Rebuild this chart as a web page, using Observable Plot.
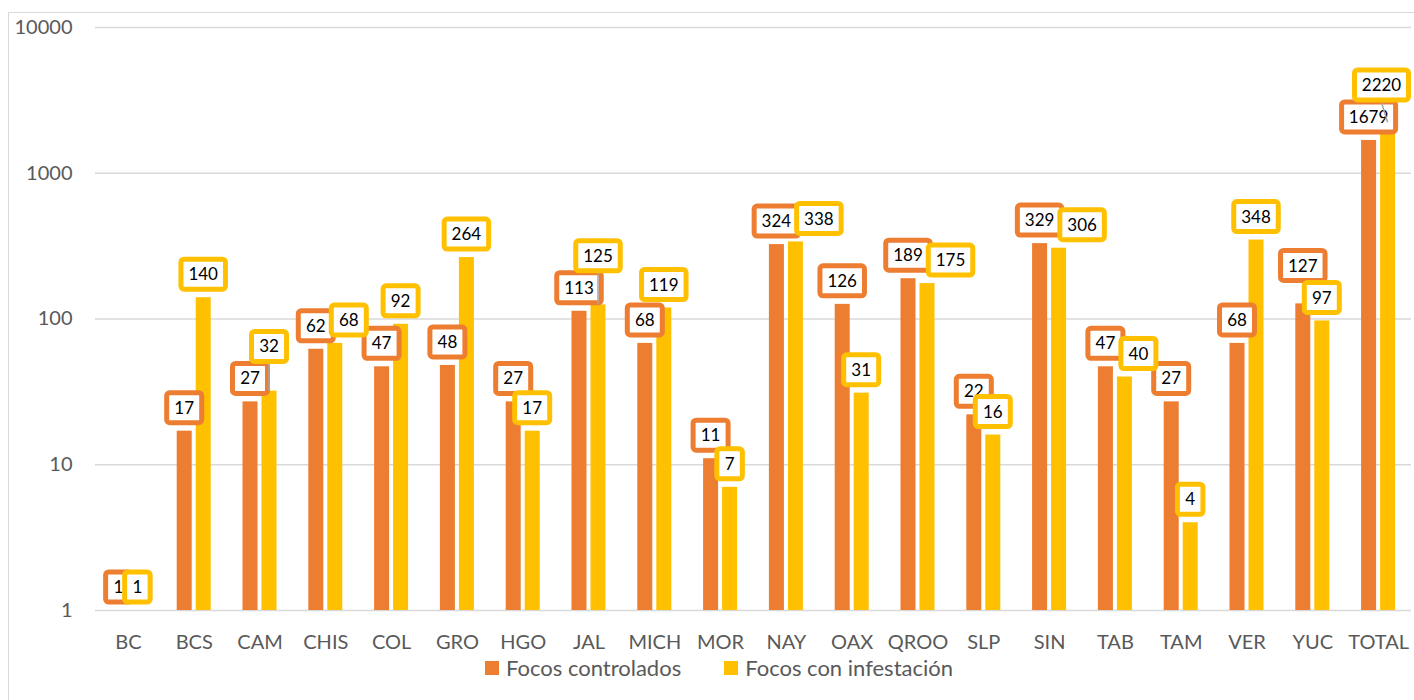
<!DOCTYPE html>
<html>
<head>
<meta charset="utf-8">
<script src="https://cdn.jsdelivr.net/npm/d3@7"></script>
<script src="https://cdn.jsdelivr.net/npm/@observablehq/plot@0.6"></script>
<style>
  html, body { margin: 0; padding: 0; background: #fff; width: 1414px; height: 700px; overflow: hidden; }
  #frame { position: absolute; left: 8px; top: 12px; width: 1430px; height: 720px; border: 1.5px solid #d9d9d9; box-sizing: border-box; }
  #chart { position: absolute; left: 0; top: 0; }
  #legend { position: absolute; left: 485px; top: 657px; display: flex; align-items: center; font-family: Lato, sans-serif; font-size: 22px; line-height: 22px; color: #595959; white-space: nowrap; }
  #legend .item { display: flex; align-items: center; }
  #legend .item + .item { margin-left: 43px; }
  #legend .sw { width: 14px; height: 14px; margin-right: 7px; }
</style>
</head>
<body>
<div id="frame"></div>
<div id="chart"></div>
<div id="legend"></div>
<script>
// ---- data ----
const categories = ["BC","BCS","CAM","CHIS","COL","GRO","HGO","JAL","MICH","MOR","NAY","OAX","QROO","SLP","SIN","TAB","TAM","VER","YUC","TOTAL"];
const controlados = [1,17,27,62,47,48,27,113,68,11,324,126,189,22,329,47,27,68,127,1679];
const infestacion = [1,140,32,68,92,264,17,125,119,7,338,31,175,16,306,40,4,348,97,2220];
const seriesNames = ["Focos controlados","Focos con infestación"];
const seriesColors = ["#ED7D31","#FFC000"];
const yTicks = [1,10,100,1000,10000];

const seriesValues = [controlados, infestacion];
const rows = [];
seriesValues.forEach((vals, s) => vals.forEach((v, i) => rows.push({cat: categories[i], s, value: v})));

const W = 1414, H = 655;
const BAR_OFF = 9.5;

const plot = Plot.plot({
  width: W,
  height: H,
  marginLeft: 95,
  marginRight: 3,
  marginTop: 27,
  marginBottom: 45,
  style: {fontFamily: "Lato, sans-serif", fontSize: "20px", color: "#595959", background: "transparent", overflow: "visible"},
  x: {domain: categories, paddingInner: 0.772, paddingOuter: 0.386, round: false, tickSize: 0, tickPadding: 24, label: null},
  y: {type: "log", domain: [1, 10000], ticks: yTicks, tickFormat: d => String(d), tickSize: 0, tickPadding: 23, label: null},
  marks: [
    Plot.ruleY(yTicks, {stroke: "#d9d9d9", strokeWidth: 1.3}),
    Plot.barY(rows.filter(d => d.s === 0), {x: "cat", y1: d => 1, y2: "value", fill: seriesColors[0], dx: -BAR_OFF}),
    Plot.barY(rows.filter(d => d.s === 1), {x: "cat", y1: d => 1, y2: "value", fill: seriesColors[1], dx: BAR_OFF})
  ]
});
document.getElementById("chart").appendChild(plot);

// ---- data labels (Excel-style boxed labels), positioned via Plot's scales ----
const sx = plot.scale("x"), sy = plot.scale("y");
const bw = sx.bandwidth;
const xMax = d3.max(sx.range);
const cx = c => sx.apply(c) + bw / 2;
const BOX_H = 35, GAP = 5.5, STACK = 32, OVER = 7, TOL_X = 12, TOL_Y = 19, EVEN = 6.2, ORANGE_UP = 12, BORDER = 5;
const boxW = v => 21 + 9.5 * String(v).length;

const labels = [[], []];
const leaders = [];
categories.forEach((c, i) => {
  const mk = (s) => {
    const v = seriesValues[s][i];
    const bx = cx(c) + (s === 0 ? -BAR_OFF : BAR_OFF);
    const top = sy.apply(v);
    return {s, v, x: bx, y: top - GAP - BOX_H / 2, w: boxW(v), barX: bx, barTop: top, lead: false};
  };
  const lo = mk(0), ly = mk(1);
  const dy = ly.y - lo.y;
  const hOver = (lo.w + ly.w) / 2 - (ly.x - lo.x);
  if (Math.abs(dy) < TOL_Y && hOver > TOL_X) {
    if (dy < -EVEN) { ly.y = lo.y - STACK; ly.lead = true; }
    else if (dy < ORANGE_UP) { ly.x = lo.x + (lo.w + ly.w) / 2 - OVER; }
    else { lo.y = ly.y - STACK; lo.lead = true; }
  }
  [lo, ly].forEach(l => {
    if (l.x + l.w / 2 > xMax) l.x = xMax - l.w / 2;
    labels[l.s].push(l);
    if (l.lead) leaders.push(l);
  });
});

const svg = d3.select(plot);
const g = svg.append("g").attr("font-family", "Lato, sans-serif").attr("font-size", 17);
function drawLabels(list) {
  const lg = g.append("g");
  list.forEach(l => {
    lg.append("rect")
      .attr("x", l.x - l.w / 2 + BORDER / 2).attr("y", l.y - BOX_H / 2 + BORDER / 2)
      .attr("width", l.w - BORDER).attr("height", BOX_H - BORDER)
      .attr("rx", 3).attr("fill", "#fff")
      .attr("stroke", seriesColors[l.s]).attr("stroke-width", BORDER);
    lg.append("text")
      .attr("x", l.x).attr("y", l.y).attr("dy", "0.36em")
      .attr("text-anchor", "middle").attr("fill", "#000")
      .text(String(l.v));
  });
}
drawLabels(labels[0]);
const leadG = g.append("g");
leaders.forEach(l => {
  leadG.append("line")
    .attr("x1", l.barX).attr("y1", l.barTop)
    .attr("x2", l.x).attr("y2", l.y + BOX_H / 2)
    .attr("stroke", "#a6a6a6").attr("stroke-width", 1.5);
});
drawLabels(labels[1]);

// ---- legend ----
const legend = document.getElementById("legend");
seriesNames.forEach((name, s) => {
  const item = document.createElement("div");
  item.className = "item";
  const sw = document.createElement("div");
  sw.className = "sw";
  sw.style.background = seriesColors[s];
  const t = document.createElement("span");
  t.textContent = name;
  item.appendChild(sw);
  item.appendChild(t);
  legend.appendChild(item);
});
</script>
</body>
</html>
